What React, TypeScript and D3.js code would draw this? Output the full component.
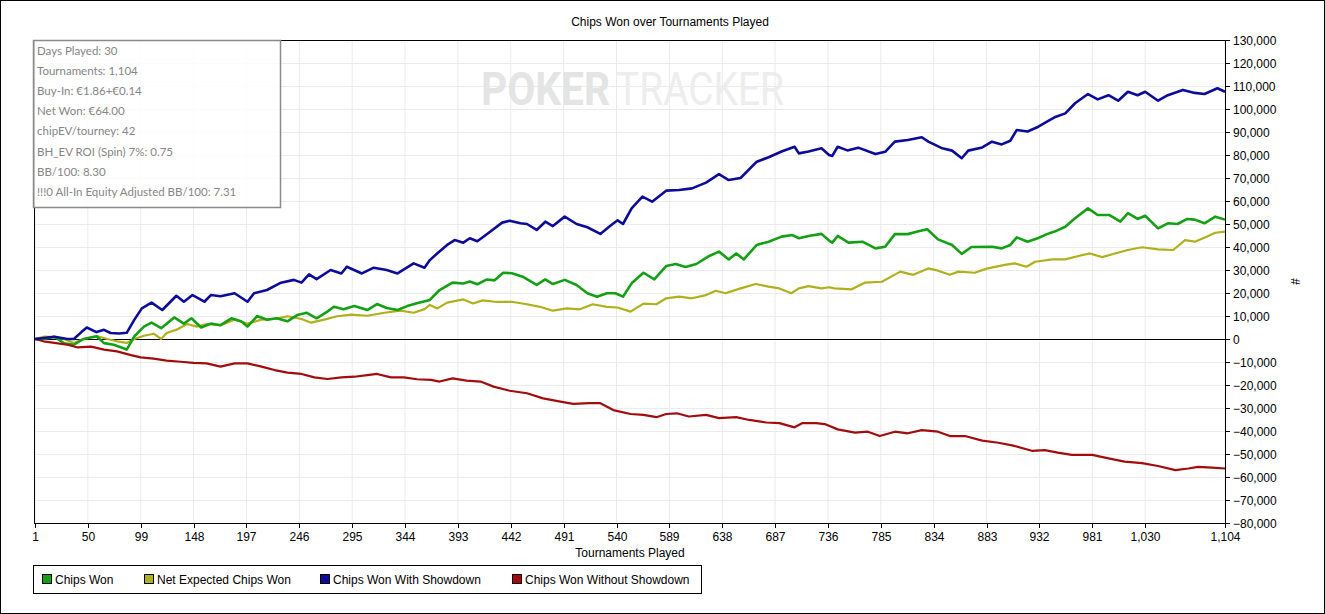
import * as d3 from 'd3';

// tournament number, chips
const chipsWon: [number, number][] = [
  [1, 0], [9, 0], [19, 1000], [28, -1900], [37, -2500], [46, 0], [58, 1200], [65, -1800], [74, -2500], [86, -4600],
  [93, 1100], [102, 5400], [109, 7100], [118, 4700], [130, 9400], [139, 6700], [146, 9000], [155, 5000], [164, 6700],
  [173, 6000], [183, 9000], [192, 7700], [198, 5400], [207, 10000], [216, 8400], [225, 9000], [235, 7700], [244, 10400],
  [253, 11400], [262, 9000], [272, 11900], [278, 14000], [287, 12900], [297, 14300], [309, 12600], [318, 15200],
  [327, 13500], [337, 12600], [346, 14300], [355, 15500], [367, 17000], [376, 21300], [388, 24500], [398, 24100],
  [404, 25000], [411, 23800], [420, 25900], [427, 25500], [435, 28800], [443, 28600], [453, 27100], [466, 23500],
  [474, 25900], [481, 23900], [492, 25700], [503, 23500], [513, 19900], [522, 18400], [531, 19900], [539, 19900],
  [546, 18400], [554, 24200], [565, 28800], [575, 25900], [586, 31700], [595, 32600], [604, 31300], [614, 32600],
  [626, 36100], [635, 38000], [644, 34600], [651, 37200], [658, 34600], [670, 40900], [681, 42300], [693, 44500],
  [703, 45200], [709, 43800], [718, 44800], [730, 45700], [737, 42800], [740, 41900], [745, 44800], [755, 41900],
  [768, 42300], [780, 39400], [789, 40100], [798, 45600], [810, 45600], [819, 46700], [828, 47700], [838, 43300],
  [851, 40900], [860, 37000], [869, 40000], [888, 40100], [897, 39400], [905, 40900], [911, 44200], [921, 42300],
  [931, 43900], [939, 45600], [946, 46700], [956, 48800], [965, 52500], [977, 56800], [986, 53900], [997, 53900],
  [1007, 51000], [1014, 54700], [1023, 52200], [1030, 53600], [1042, 48100], [1051, 50300], [1060, 50000],
  [1069, 52200], [1076, 51900], [1085, 50300], [1095, 53200], [1104, 51900],
];

const netExpected: [number, number][] = [
  [1, 0], [9, 1000], [19, 800], [28, 0], [37, -1700], [46, 0], [59, 1200], [68, 0], [77, -1000], [86, -1700],
  [93, 0], [102, 1400], [111, 2300], [118, 0], [123, 2600], [133, 4200], [142, 6500], [151, 5400], [160, 6500],
  [173, 6000], [186, 8400], [198, 6700], [211, 8400], [223, 8700], [235, 9900], [248, 8700], [257, 7100], [269, 8400],
  [281, 9900], [294, 10600], [309, 10100], [325, 11400], [340, 12300], [352, 11400], [362, 13000], [367, 14800],
  [374, 13300], [383, 15800], [398, 17200], [407, 15400], [416, 16800], [429, 16100], [444, 16100], [457, 15100],
  [469, 14000], [481, 12300], [494, 13300], [506, 12900], [518, 15100], [531, 14000], [541, 13700], [553, 11900],
  [565, 15400], [577, 15100], [586, 17700], [598, 18400], [610, 17700], [623, 19100], [632, 21000], [641, 19900],
  [655, 22000], [669, 23900], [681, 22800], [691, 22000], [702, 19900], [709, 22000], [718, 23000], [730, 22000],
  [737, 22500], [742, 22000], [758, 21600], [770, 24500], [786, 24900], [803, 29300], [815, 27900], [829, 30700],
  [838, 29700], [849, 27900], [857, 29300], [872, 28800], [884, 30700], [900, 32200], [909, 32900], [920, 31400],
  [928, 33600], [944, 34600], [956, 34600], [968, 36100], [979, 37200], [990, 35600], [1002, 37200], [1014, 38700],
  [1027, 39900], [1042, 39000], [1056, 38700], [1067, 43000], [1076, 42300], [1087, 44500], [1095, 46200],
  [1104, 46700],
];

const withShowdown: [number, number][] = [
  [1, 0], [19, 1000], [31, 0], [37, 0], [44, 3000], [49, 5000], [58, 3000], [65, 4000], [71, 2600], [79, 2400],
  [86, 2700], [93, 8300], [100, 13300], [109, 15800], [119, 12600], [132, 18800], [139, 16200], [147, 19100],
  [158, 16200], [164, 19100], [173, 18600], [186, 19900], [198, 16200], [204, 19900], [216, 21300], [229, 24500],
  [241, 25700], [248, 24500], [255, 28100], [262, 26000], [275, 30000], [285, 28500], [290, 31400], [304, 28500],
  [315, 31000], [327, 30000], [337, 28500], [352, 32900], [362, 31000], [367, 34300], [374, 37300], [383, 40900],
  [390, 43000], [398, 41900], [404, 43800], [411, 42500], [421, 46000], [434, 50600], [441, 51400], [451, 50300],
  [457, 50000], [466, 47400], [474, 51000], [481, 49100], [492, 53200], [503, 50000], [513, 48600], [525, 45700],
  [534, 49100], [541, 51600], [546, 50000], [554, 56800], [564, 61900], [573, 59700], [586, 64500], [598, 64800],
  [610, 65500], [623, 68000], [635, 71700], [644, 69100], [655, 70000], [670, 77100], [681, 79000], [693, 81500],
  [705, 83600], [709, 80700], [718, 81500], [730, 82900], [737, 80000], [740, 79600], [745, 83600], [754, 82000],
  [764, 83200], [780, 80400], [789, 81400], [798, 85800], [810, 86500], [823, 87700], [829, 85800], [842, 82900],
  [851, 81900], [860, 78600], [866, 81900], [879, 83300], [888, 85800], [897, 84600], [905, 86200], [911, 90900],
  [921, 90200], [931, 92300], [939, 94500], [946, 96400], [956, 98100], [965, 102500], [977, 106500], [986, 104200],
  [996, 106000], [1005, 103600], [1014, 107500], [1023, 106000], [1030, 107500], [1042, 103600], [1051, 106000],
  [1065, 108300], [1076, 107000], [1085, 106500], [1097, 109000], [1104, 107500],
];

const withoutShowdown: [number, number][] = [
  [1, 0], [9, -1000], [19, -1700], [31, -2500], [40, -3600], [53, -3300], [65, -4600], [77, -5400], [90, -7000],
  [99, -8000], [111, -8500], [123, -9400], [136, -9900], [148, -10400], [160, -10600], [173, -12000], [186, -10600],
  [198, -10600], [211, -12000], [223, -13500], [235, -14600], [248, -15200], [260, -16700], [272, -17400],
  [285, -16700], [297, -16400], [309, -15700], [318, -15200], [331, -16700], [343, -16700], [355, -17500],
  [368, -17800], [376, -18500], [388, -17100], [401, -18100], [414, -18500], [426, -20700], [441, -22500],
  [457, -23600], [472, -25800], [488, -27200], [500, -28200], [515, -27900], [525, -27900], [537, -30900],
  [553, -32600], [565, -33000], [577, -34000], [586, -32600], [596, -32300], [607, -33700], [623, -33000],
  [635, -34400], [651, -34000], [663, -35200], [679, -36300], [691, -36600], [705, -38400], [712, -36600],
  [725, -36600], [733, -37000], [745, -39300], [761, -40700], [773, -40300], [784, -42200], [798, -40300],
  [810, -41000], [823, -39600], [838, -40300], [849, -42200], [863, -42200], [879, -44200], [894, -45100],
  [909, -46500], [925, -48600], [937, -48300], [949, -49400], [962, -50400], [981, -50400], [996, -51900],
  [1011, -53300], [1027, -54000], [1042, -55200], [1058, -57000], [1070, -56300], [1079, -55600], [1092, -55900],
  [1104, -56300],
];

const xTicks = [1, 50, 99, 148, 197, 246, 295, 344, 393, 442, 491, 540, 589, 638, 687, 736, 785, 834, 883, 932, 981, 1030, 1104];
const yTicks = d3.range(-80000, 130001, 10000);

const statsLines = [
  'Days Played: 30',
  'Tournaments: 1,104',
  'Buy-In: €1.86+€0.14',
  'Net Won: €64.00',
  'chipEV/tourney: 42',
  'BH_EV ROI (Spin) 7%: 0.75',
  'BB/100: 8.30',
  '!!!0 All-In Equity Adjusted BB/100: 7.31',
];

const series = [
  { name: 'Chips Won', data: chipsWon, color: '#14a014', width: 2.6 },
  { name: 'Net Expected Chips Won', data: netExpected, color: '#b0b01c', width: 2.2 },
  { name: 'Chips Won With Showdown', data: withShowdown, color: '#0c0c98', width: 2.6 },
  { name: 'Chips Won Without Showdown', data: withoutShowdown, color: '#a30c0c', width: 2.2 },
];
const drawOrder = [1, 0, 3, 2];
const legendX = [42, 144, 320, 512];

const W = 1325;
const H = 614;
const left = 34;
const right = 1225;
const top = 40;
const bottom = 523;
const font = '"Liberation Sans", Arial, sans-serif';

export default function App() {
  const x = d3.scaleLinear().domain([1, 1104]).range([left + 1, right]);
  const y = d3.scaleLinear().domain([-80000, 130000]).range([bottom, top]);
  const fmt = d3.format(',');
  const line = d3
    .line<[number, number]>()
    .x((d) => x(d[0]))
    .y((d) => y(d[1]));

  return (
    <>
      <style>{'body{margin:0}'}</style>
      <svg width={W} height={H} style={{ display: 'block', background: '#fff' }} fontFamily={font}>
        <rect x={0.5} y={0.5} width={W - 1} height={H - 1} fill="#fff" stroke="#000" />

        <text x={670} y={26} textAnchor="middle" fontSize={12} fill="#000">
          Chips Won over Tournaments Played
        </text>

        {/* grid */}
        {xTicks.map((t) => (
          <line key={'gx' + t} x1={x(t)} x2={x(t)} y1={top} y2={bottom} stroke="#ebebeb" />
        ))}
        {yTicks.map((v) => (
          <line key={'gy' + v} x1={left} x2={right} y1={Math.round(y(v)) + 0.5} y2={Math.round(y(v)) + 0.5} stroke="#ebebeb" />
        ))}

        {/* watermark */}
        <text x={481} y={105} fontFamily="Roboto, sans-serif" fontWeight="bold" fontSize={47} fill="#e4e4e4" textLength={129} lengthAdjust="spacingAndGlyphs">
          POKER
        </text>
        <text x={616} y={105} fontFamily="Roboto, sans-serif" fontSize={47} fill="#ededed" textLength={168} lengthAdjust="spacingAndGlyphs">
          TRACKER
        </text>

        {/* zero line */}
        <line x1={left} x2={right} y1={Math.round(y(0)) + 0.5} y2={Math.round(y(0)) + 0.5} stroke="#000" />

        {/* series */}
        {drawOrder.map((i) => {
          const s = series[i];
          return (
            <path key={s.name} d={line(s.data) || ''} fill="none" stroke={s.color} strokeWidth={s.width} strokeLinejoin="round" />
          );
        })}

        {/* frame */}
        <line x1={left} x2={right} y1={top + 0.5} y2={top + 0.5} stroke="#000" />
        <line x1={left + 0.5} x2={left + 0.5} y1={top} y2={bottom} stroke="#000" />
        <line x1={left} x2={right} y1={bottom + 0.5} y2={bottom + 0.5} stroke="#000" />
        <line x1={right + 0.5} x2={right + 0.5} y1={top} y2={bottom + 1} stroke="#000" />

        {/* y axis (right) */}
        {yTicks.map((v) => (
          <g key={'yt' + v} transform={`translate(${right}, ${Math.round(y(v)) + 0.5})`}>
            <line x1={0} x2={5} stroke="#000" />
            <text x={8} dy="0.35em" fontSize={12} fill="#000">
              {fmt(v)}
            </text>
          </g>
        ))}
        <text transform={`translate(1291, ${(top + bottom) / 2}) rotate(90)`} textAnchor="middle" fontSize={12} fill="#000">
          #
        </text>

        {/* x axis */}
        {xTicks.map((t) => (
          <g key={'xt' + t} transform={`translate(${Math.round(x(t)) + 0.5}, ${bottom})`}>
            <line y1={0} y2={5} stroke="#000" />
            <text y={18} textAnchor="middle" fontSize={12} fill="#000">
              {fmt(t)}
            </text>
          </g>
        ))}
        <text x={630} y={557} textAnchor="middle" fontSize={12} fill="#000">
          Tournaments Played
        </text>

        {/* stats box */}
        <rect x={33.5} y={40.5} width={247} height={167} fill="#fff" fillOpacity={0.82} stroke="#8a8a8a" strokeWidth={1.5} />
        {statsLines.map((s, i) => (
          <text key={s} x={37} y={55 + i * 20.1} fontFamily="Lato, 'Noto Sans', sans-serif" fontSize={11.5} fill="#858585">
            {s}
          </text>
        ))}

        {/* legend */}
        <rect x={33.5} y={565.5} width={668} height={28} fill="#fff" stroke="#000" />
        {series.map((s, i) => (
          <g key={'lg' + s.name}>
            <rect x={legendX[i] + 0.5} y={574.5} width={9} height={9} fill={s.color} stroke="#000" />
            <text x={legendX[i] + 13} y={584} fontSize={12} fill="#000">
              {s.name}
            </text>
          </g>
        ))}
      </svg>
    </>
  );
}
